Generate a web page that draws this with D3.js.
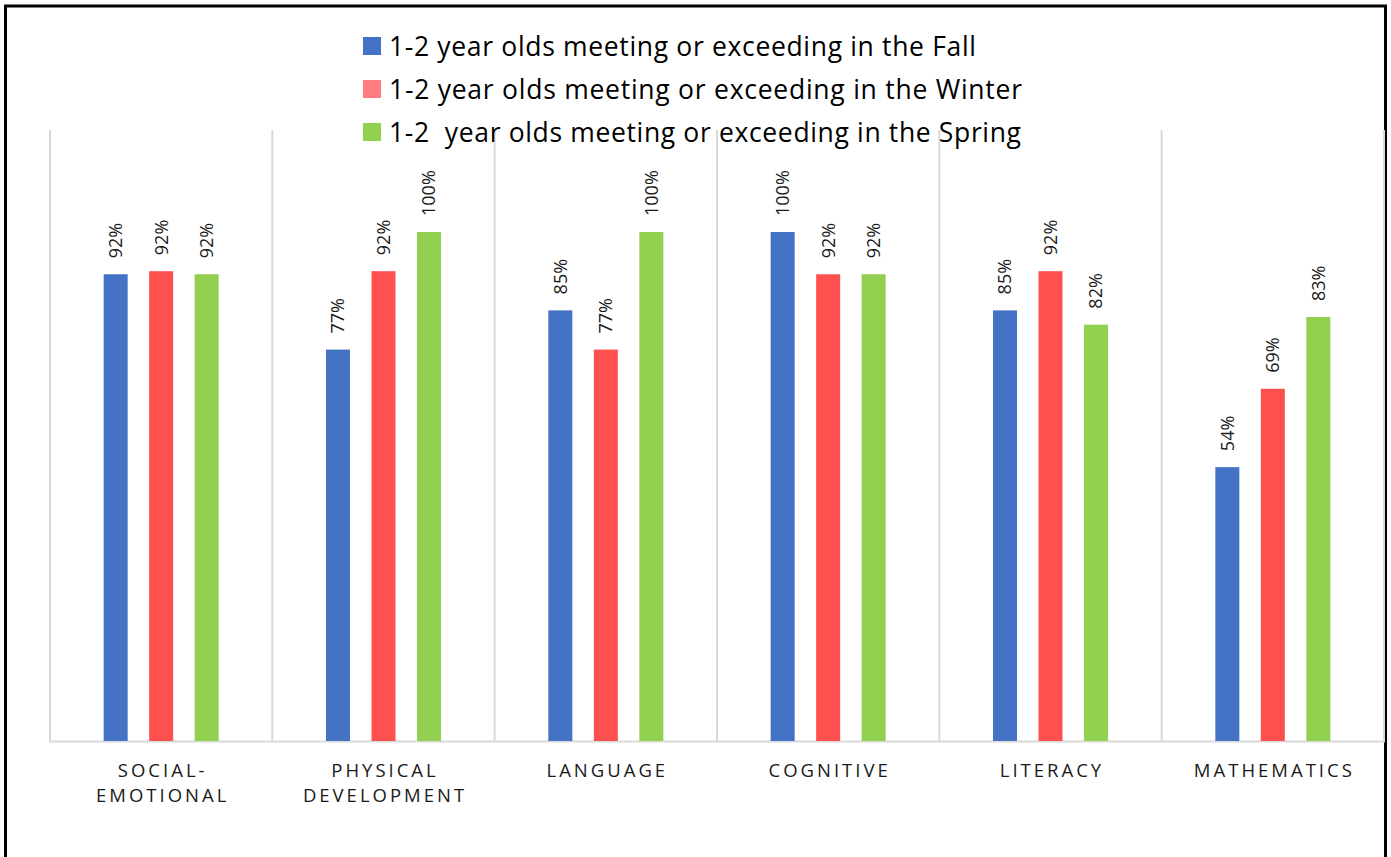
<!DOCTYPE html>
<html>
<head>
<meta charset="utf-8">
<script src="https://cdn.jsdelivr.net/npm/d3@7"></script>
<style>
  body { margin: 0; background: #fff; }
  svg { display: block; font-family: "Open Sans", "Noto Sans", sans-serif; }
</style>
</head>
<body>
<div id="chart"></div>
<script>
/* DATA */
const categories = [
  ["SOCIAL-", "EMOTIONAL"],
  ["PHYSICAL", "DEVELOPMENT"],
  ["LANGUAGE"],
  ["COGNITIVE"],
  ["LITERACY"],
  ["MATHEMATICS"]
];
const seriesNames = [
  "1-2 year olds meeting or exceeding in the Fall",
  "1-2 year olds meeting or exceeding in the Winter",
  "1-2  year olds meeting or exceeding in the Spring"
];
const fallValues = [91.7, 76.9, 84.6, 100, 84.6, 53.8];
const winterValues = [92.3, 92.3, 76.9, 91.7, 92.3, 69.2];
const springValues = [91.7, 100, 100, 91.7, 81.8, 83.3];
const seriesValues = [fallValues, winterValues, springValues];

const barColors = ["#4472C4", "#FF5050", "#92D050"];
const legendColors = ["#4472C4", "#FF7C80", "#92D050"];
// legend text widths as they appear in the picture
const legendWidths = [587, 633, 632];

/* LAYOUT */
const W = 1391, H = 857;
const plot = { left: 50, right: 1384, top: 130, bottom: 741 };
const barWidth = 24;

const svg = d3.select("#chart")
  .append("svg")
  .attr("width", W)
  .attr("height", H);

// outer frame (no bottom edge visible)
svg.append("path")
  .attr("d", `M5.5,${H} V6 H1385.5 V${H}`)
  .attr("fill", "none")
  .attr("stroke", "#000")
  .attr("stroke-width", 3);

/* SCALES */
const x = d3.scaleBand()
  .domain(d3.range(categories.length))
  .range([plot.left, plot.right])
  .padding(0);

const xInner = d3.scalePoint()
  .domain(d3.range(seriesNames.length))
  .range([-45.5, 45.5]);

const y = d3.scaleLinear()
  .domain([0, 100])
  .range([plot.bottom, 232]);

// vertical separators
svg.append("g")
  .selectAll("line")
  .data(d3.range(categories.length + 1))
  .join("line")
  .attr("x1", (d) => plot.left + d * x.bandwidth())
  .attr("x2", (d) => plot.left + d * x.bandwidth())
  .attr("y1", plot.top)
  .attr("y2", plot.bottom)
  .attr("stroke", "#d9d9d9")
  .attr("stroke-width", 2);

// baseline
svg.append("line")
  .attr("x1", plot.left - 1)
  .attr("x2", plot.right + 1)
  .attr("y1", plot.bottom + 0.5)
  .attr("y2", plot.bottom + 0.5)
  .attr("stroke", "#d9d9d9")
  .attr("stroke-width", 2);

/* BARS AND LABELS */
const cells = [];
seriesValues.forEach((vals, s) => {
  vals.forEach((v, c) => cells.push({ s, c, v }));
});

const cx = (d) => x(d.c) + x.bandwidth() / 2 + xInner(d.s);

svg.append("g")
  .selectAll("rect")
  .data(cells)
  .join("rect")
  .attr("x", (d) => cx(d) - barWidth / 2)
  .attr("y", (d) => y(d.v))
  .attr("width", barWidth)
  .attr("height", (d) => y(0) - y(d.v))
  .attr("fill", (d) => barColors[d.s]);

svg.append("g")
  .selectAll("text")
  .data(cells)
  .join("text")
  .attr("transform", (d) => `translate(${cx(d)},${y(d.v) - 16}) rotate(-90)`)
  .attr("dy", "0.36em")
  .attr("font-size", 18)
  .attr("fill", "#1a1a1a")
  .text((d) => `${Math.round(d.v)}%`);

/* CATEGORY LABELS */
const catText = svg.append("g")
  .selectAll("text")
  .data(categories)
  .join("text")
  .attr("x", (d, i) => x(i) + x.bandwidth() / 2 + 1.5)
  .attr("y", 777)
  .attr("text-anchor", "middle")
  .attr("font-size", 18.5)
  .attr("letter-spacing", "3px")
  .attr("fill", "#1a1a1a");

catText.selectAll("tspan")
  .data((d) => d)
  .join("tspan")
  .attr("x", function () { return this.parentNode.getAttribute("x"); })
  .attr("dy", (d, i) => (i === 0 ? 0 : 25))
  .text((d) => d);

/* LEGEND */
const legend = svg.append("g")
  .selectAll("g")
  .data(seriesNames)
  .join("g")
  .attr("transform", (d, i) => `translate(363,${37 + i * 43})`);

legend.append("rect")
  .attr("width", 18)
  .attr("height", 18)
  .attr("fill", (d, i) => legendColors[i]);

legend.append("text")
  .attr("x", 26)
  .attr("y", 9)
  .attr("dy", "0.36em")
  .attr("font-size", 26.5)
  .attr("fill", "#000")
  .attr("textLength", (d, i) => legendWidths[i])
  .attr("lengthAdjust", "spacing")
  .style("white-space", "pre")
  .text((d) => d);
</script>
</body>
</html>
